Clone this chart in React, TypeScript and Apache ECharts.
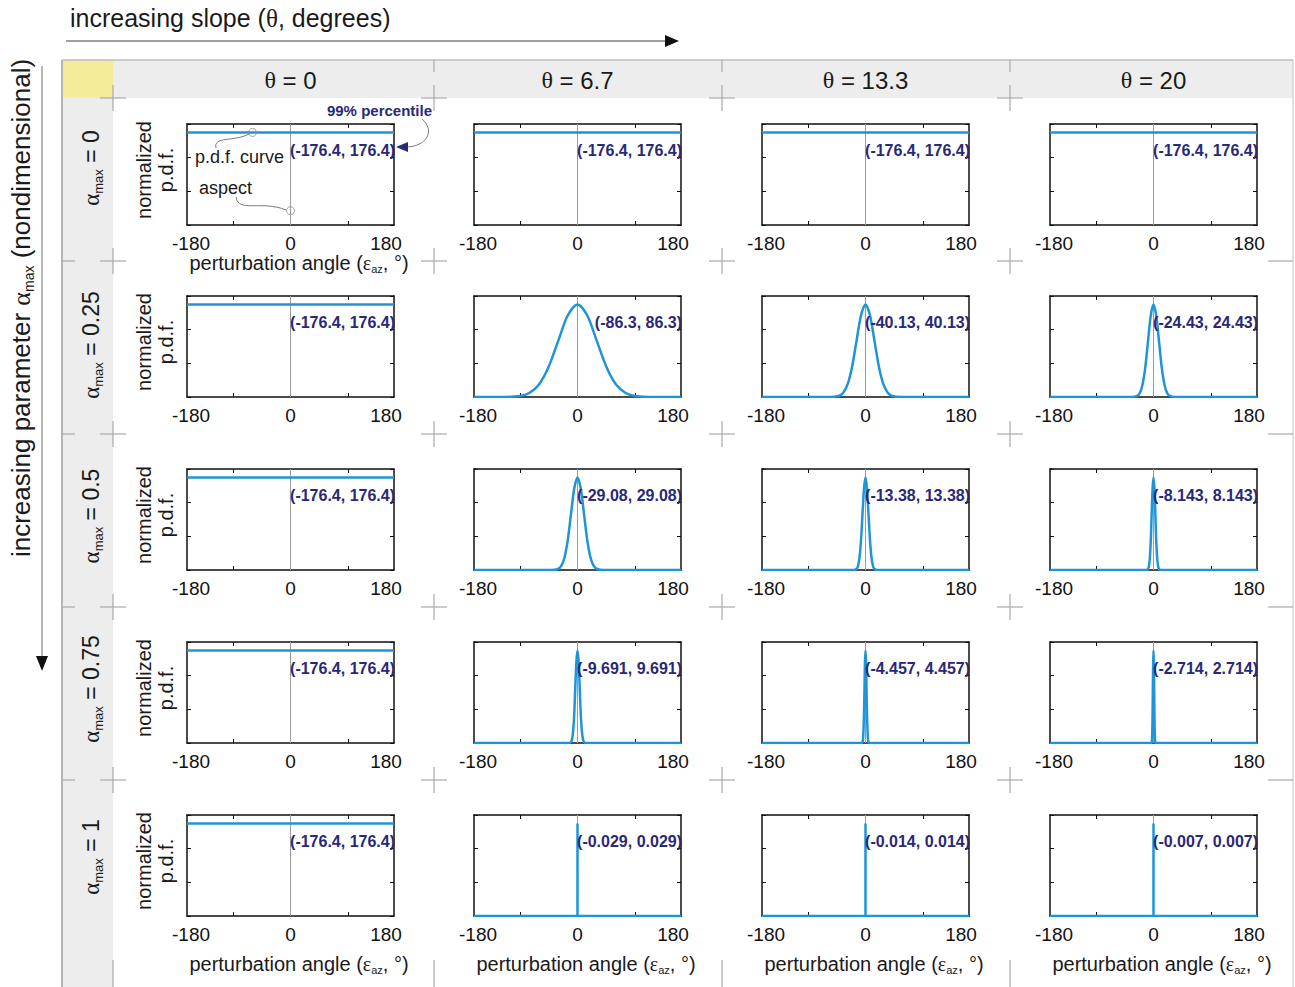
import React, { useEffect, useRef } from "react";
import * as echarts from "echarts";

// ---------- data ----------
const THETA_LABELS = ["0", "6.7", "13.3", "20"];
const ALPHA_LABELS = ["0", "0.25", "0.5", "0.75", "1"];
const X_TICK_VALUES = [-100, 0, 100];
const X_LABEL_VALUES = [-180, 0, 180];
const Y_MAX = 1.2;
const Y_INTERVAL = 0.4;
const ZERO_LINE = [[0, 0], [0, 1.2]];

const FLAT = [[-180, 1.1], [180, 1.1]];

const A025_T67 = [[-180, 0], [-134, 0], [-100.5, 0.012], [-83.8, 0.048], [-67, 0.149], [-50.3, 0.357], [-33.5, 0.667], [-16.8, 0.971], [0, 1.1], [16.8, 0.971], [33.5, 0.667], [50.3, 0.357], [67, 0.149], [83.8, 0.048], [100.5, 0.012], [134, 0], [180, 0]];
const A025_T133 = [[-180, 0], [-62.3, 0], [-46.7, 0.012], [-39, 0.048], [-31.2, 0.149], [-23.4, 0.357], [-15.6, 0.667], [-7.8, 0.971], [0, 1.1], [7.8, 0.971], [15.6, 0.667], [23.4, 0.357], [31.2, 0.149], [39, 0.048], [46.7, 0.012], [62.3, 0], [180, 0]];
const A025_T20 = [[-180, 0], [-37.9, 0], [-28.5, 0.012], [-23.7, 0.048], [-19, 0.149], [-14.2, 0.357], [-9.5, 0.667], [-4.7, 0.971], [0, 1.1], [4.7, 0.971], [9.5, 0.667], [14.2, 0.357], [19, 0.149], [23.7, 0.048], [28.5, 0.012], [37.9, 0], [180, 0]];
const A05_T67 = [[-180, 0], [-45.2, 0], [-33.9, 0.012], [-28.2, 0.048], [-22.6, 0.149], [-16.9, 0.357], [-11.3, 0.667], [-5.6, 0.971], [0, 1.1], [5.6, 0.971], [11.3, 0.667], [16.9, 0.357], [22.6, 0.149], [28.2, 0.048], [33.9, 0.012], [45.2, 0], [180, 0]];
const A05_T133 = [[-180, 0], [-20.8, 0], [-15.6, 0.012], [-13, 0.048], [-10.4, 0.149], [-7.8, 0.357], [-5.2, 0.667], [-2.6, 0.971], [0, 1.1], [2.6, 0.971], [5.2, 0.667], [7.8, 0.357], [10.4, 0.149], [13, 0.048], [15.6, 0.012], [20.8, 0], [180, 0]];
const A05_T20 = [[-180, 0], [-12.6, 0], [-9.5, 0.012], [-7.9, 0.048], [-6.3, 0.149], [-4.7, 0.357], [-3.2, 0.667], [-1.6, 0.971], [0, 1.1], [1.6, 0.971], [3.2, 0.667], [4.7, 0.357], [6.3, 0.149], [7.9, 0.048], [9.5, 0.012], [12.6, 0], [180, 0]];
const A075_T67 = [[-180, 0], [-15, 0], [-11.3, 0.012], [-9.4, 0.048], [-7.5, 0.149], [-5.6, 0.357], [-3.8, 0.667], [-1.9, 0.971], [0, 1.1], [1.9, 0.971], [3.8, 0.667], [5.6, 0.357], [7.5, 0.149], [9.4, 0.048], [11.3, 0.012], [15, 0], [180, 0]];
const A075_T133 = [[-180, 0], [-6.9, 0], [-5.2, 0.012], [-4.3, 0.048], [-3.5, 0.149], [-2.6, 0.357], [-1.7, 0.667], [-0.9, 0.971], [0, 1.1], [0.9, 0.971], [1.7, 0.667], [2.6, 0.357], [3.5, 0.149], [4.3, 0.048], [5.2, 0.012], [6.9, 0], [180, 0]];
const A075_T20 = [[-180, 0], [-4.2, 0], [-3.2, 0.012], [-2.6, 0.048], [-2.1, 0.149], [-1.6, 0.357], [-1.1, 0.667], [-0.5, 0.971], [0, 1.1], [0.5, 0.971], [1.1, 0.667], [1.6, 0.357], [2.1, 0.149], [2.6, 0.048], [3.2, 0.012], [4.2, 0], [180, 0]];
const A1_T67 = [[-180, 0], [-0.029, 0], [0, 1.1], [0.029, 0], [180, 0]];
const A1_T133 = [[-180, 0], [-0.014, 0], [0, 1.1], [0.014, 0], [180, 0]];
const A1_T20 = [[-180, 0], [-0.007, 0], [0, 1.1], [0.007, 0], [180, 0]];

const CURVES = [
  [FLAT, FLAT, FLAT, FLAT],
  [FLAT, A025_T67, A025_T133, A025_T20],
  [FLAT, A05_T67, A05_T133, A05_T20],
  [FLAT, A075_T67, A075_T133, A075_T20],
  [FLAT, A1_T67, A1_T133, A1_T20],
];

const BOUNDS = [
  ["(-176.4, 176.4)", "(-176.4, 176.4)", "(-176.4, 176.4)", "(-176.4, 176.4)"],
  ["(-176.4, 176.4)", "(-86.3, 86.3)", "(-40.13, 40.13)", "(-24.43, 24.43)"],
  ["(-176.4, 176.4)", "(-29.08, 29.08)", "(-13.38, 13.38)", "(-8.143, 8.143)"],
  ["(-176.4, 176.4)", "(-9.691, 9.691)", "(-4.457, 4.457)", "(-2.714, 2.714)"],
  ["(-176.4, 176.4)", "(-0.029, 0.029)", "(-0.014, 0.014)", "(-0.007, 0.007)"],
];

// annotation markers in the first panel (p.d.f. curve, aspect)
const ANNOT_CIRCLES = [[-66, 1.1], [0, 0.17]];

// ---------- layout / style ----------
const COL_LEFT = [187, 474, 762, 1050];
const ROW_TOP = [124, 296, 469, 642, 815];
const BW = 207;
const BH = 101;
const ROW_LABEL_Y = [168, 345, 516, 689, 857];
const COL_BOUND_X = [113, 434, 722, 1010];
const ROW_BOUND_Y = [98, 261, 434, 607, 780];

const FONT = "'Liberation Sans', Arial, Helvetica, sans-serif";
const SERIF = "'Liberation Serif', 'DejaVu Serif', serif";
const NAVY = "#2a2878";
const BLUE = "#1f95d6";
const INK = "#1a1a1a";
const GRID_GRAY = "#a9a9a9";

function txt(x: number, y: number, text: string, o: any = {}) {
  return {
    type: "text",
    x,
    y,
    z: 50,
    silent: true,
    rotation: o.rotation || 0,
    style: {
      text,
      fill: o.fill || INK,
      fontSize: o.fontSize || 20,
      fontFamily: o.fontFamily || FONT,
      fontWeight: o.fontWeight || "normal",
      align: o.align || "center",
      verticalAlign: o.verticalAlign || "middle",
      rich: o.rich,
    },
  };
}

function ln(x1: number, y1: number, x2: number, y2: number, stroke = GRID_GRAY, w = 1.2) {
  return { type: "line", z: 5, silent: true, shape: { x1, y1, x2, y2 }, style: { stroke, lineWidth: w } };
}

function richMain(size: number) {
  return {
    a: { fontSize: size, fontFamily: FONT, color: INK },
    g: { fontSize: size, fontFamily: SERIF, color: INK },
    s: { fontSize: Math.round(size * 0.55), fontFamily: FONT, color: INK, padding: [Math.round(size * 0.6), 0, 0, 0] },
  };
}

function buildOption() {
  const grid: any[] = [];
  const xAxis: any[] = [];
  const yAxis: any[] = [];
  const series: any[] = [];
  const lineStyle = { color: "#111", width: 1.5 };
  const tick = { show: true, inside: true, length: 4, lineStyle: { color: "#111", width: 1 } };

  let gi = 0;
  for (let r = 0; r < 5; r++) {
    for (let c = 0; c < 4; c++) {
      grid.push({ left: COL_LEFT[c], top: ROW_TOP[r], width: BW, height: BH });
      xAxis.push({
        gridIndex: gi, type: "value", position: "bottom", min: -180, max: 180,
        axisLine: { show: true, onZero: false, lineStyle },
        axisTick: { ...tick, customValues: X_TICK_VALUES },
        splitLine: { show: false },
        axisLabel: {
          show: true, customValues: X_LABEL_VALUES, margin: 9,
          fontSize: 19, fontFamily: FONT, color: "#111",
          formatter: (v: number) => (v === 180 ? "{r|180}" : v === -180 ? "{l|-180}" : "{m|" + v + "}"),
          rich: {
            l: { fontSize: 19, fontFamily: FONT, color: "#111", padding: [0, 0, 0, 8] },
            r: { fontSize: 19, fontFamily: FONT, color: "#111", padding: [0, 16, 0, 0] },
            m: { fontSize: 19, fontFamily: FONT, color: "#111" },
          },
        },
      });
      xAxis.push({
        gridIndex: gi, type: "value", position: "top", min: -180, max: 180,
        axisLine: { show: true, onZero: false, lineStyle },
        axisTick: { ...tick, customValues: X_TICK_VALUES },
        axisLabel: { show: false }, splitLine: { show: false },
      });
      yAxis.push({
        gridIndex: gi, type: "value", position: "left", min: 0, max: Y_MAX, interval: Y_INTERVAL,
        axisLine: { show: true, onZero: false, lineStyle },
        axisTick: tick, axisLabel: { show: false }, splitLine: { show: false },
      });
      yAxis.push({
        gridIndex: gi, type: "value", position: "right", min: 0, max: Y_MAX, interval: Y_INTERVAL,
        axisLine: { show: true, onZero: false, lineStyle },
        axisTick: tick, axisLabel: { show: false }, splitLine: { show: false },
      });
      series.push({
        type: "line", xAxisIndex: 2 * gi, yAxisIndex: 2 * gi, data: ZERO_LINE,
        symbol: "none", silent: true, z: 2,
        lineStyle: { color: "#9c9c9c", width: 1 },
      });
      const curve = CURVES[r][c];
      series.push({
        type: "line", xAxisIndex: 2 * gi, yAxisIndex: 2 * gi, data: curve,
        symbol: "none", silent: true, z: 3, smooth: curve.length > 5 ? 0.3 : false,
        lineStyle: { color: BLUE, width: 2.5 },
      });
      if (gi === 0) {
        series.push({
          type: "scatter", xAxisIndex: 0, yAxisIndex: 0, data: ANNOT_CIRCLES, z: 4,
          symbol: "circle", symbolSize: 8, silent: true,
          itemStyle: { color: "rgba(255,255,255,0)", borderColor: "#8a8a8a", borderWidth: 1 },
        });
      }
      gi++;
    }
  }

  const g: any[] = [];
  // background bands
  g.push({ type: "rect", z: 0, silent: true, shape: { x: 62, y: 60, width: 1231, height: 38 }, style: { fill: "#ededed" } });
  g.push({ type: "rect", z: 0, silent: true, shape: { x: 62, y: 98, width: 51, height: 889 }, style: { fill: "#ededed" } });
  g.push({ type: "rect", z: 1, silent: true, shape: { x: 62, y: 60, width: 51, height: 38 }, style: { fill: "#f5ec9b" } });
  g.push(ln(62, 60, 1293, 60, "#bcbcbc", 1.5));
  g.push(ln(62, 60, 62, 987, "#b4b4b4", 2));
  g.push(ln(1293, 60, 1293, 987, "#c4c4c4", 1));
  // crosses and edge ticks
  for (const y of ROW_BOUND_Y) {
    for (const x of COL_BOUND_X) {
      g.push(ln(x - 13, y, x + 13, y));
      g.push(ln(x, y - 13, x, y + 13));
    }
    if (y > 98) {
      g.push(ln(62, y, 75, y));
      g.push(ln(1268, y, 1293, y));
    }
  }
  for (const x of COL_BOUND_X.slice(1)) g.push(ln(x, 60, x, 72));
  for (const x of COL_BOUND_X) g.push(ln(x, 960, x, 987));

  // arrows
  g.push(ln(66, 41, 667, 41, "#808080", 1.3));
  g.push({ type: "polygon", z: 5, silent: true, shape: { points: [[665, 35], [679, 41], [665, 47]] }, style: { fill: "#111" } });
  g.push(ln(42, 66, 42, 658, "#a0a0a0", 1.5));
  g.push({ type: "polygon", z: 5, silent: true, shape: { points: [[36, 656], [48, 656], [42, 671]] }, style: { fill: "#111" } });

  // titles
  g.push(txt(70, 18, "{a|increasing slope (}{g|θ}{a|, degrees)}", { align: "left", rich: richMain(25) }));
  g.push(txt(21, 308, "{a|increasing parameter }{g|α}{s|max}{a| (nondimensional)}", { rotation: Math.PI / 2, rich: richMain(26) }));

  for (let c = 0; c < 4; c++) {
    g.push(txt(COL_LEFT[c] + 103.5, 80, "{g|θ}{a| = " + THETA_LABELS[c] + "}", { rich: richMain(24) }));
  }
  for (let r = 0; r < 5; r++) {
    g.push(txt(91, ROW_LABEL_Y[r], "{g|α}{s|max}{a| = " + ALPHA_LABELS[r] + "}", { rotation: Math.PI / 2, rich: richMain(23) }));
    g.push(txt(144, ROW_TOP[r] + 46, "normalized", { rotation: Math.PI / 2, fontSize: 20 }));
    g.push(txt(166, ROW_TOP[r] + 46, "p.d.f.", { rotation: Math.PI / 2, fontSize: 20 }));
    for (let c = 0; c < 4; c++) {
      g.push(txt(COL_LEFT[c] + BW + 1, ROW_TOP[r] + 26, BOUNDS[r][c], {
        align: "right", fontSize: 16, fontWeight: "bold", fill: NAVY,
      }));
    }
  }
  const xTitle = "{a|perturbation angle (}{g|ε}{s|az}{a|, °)}";
  g.push(txt(COL_LEFT[0] + 112, 263, xTitle, { rich: richMain(20) }));
  for (let c = 0; c < 4; c++) g.push(txt(COL_LEFT[c] + 112, 964, xTitle, { rich: richMain(20) }));

  // annotations in first panel
  g.push(txt(195, 157, "p.d.f. curve", { align: "left", fontSize: 18 }));
  g.push(txt(199, 188, "aspect", { align: "left", fontSize: 18 }));
  g.push({ type: "bezierCurve", z: 5, silent: true, shape: { x1: 216, y1: 148, cpx1: 213, cpy1: 136, cpx2: 234, cpy2: 142, x2: 249, y2: 134 }, style: { stroke: "#7a7a7a", lineWidth: 1, fill: "none" } });
  g.push({ type: "bezierCurve", z: 5, silent: true, shape: { x1: 236, y1: 197, cpx1: 238, cpy1: 213, cpx2: 262, cpy2: 200, x2: 286, y2: 210 }, style: { stroke: "#7a7a7a", lineWidth: 1, fill: "none" } });
  g.push(txt(432, 110, "99% percentile", { align: "right", fontSize: 15, fontWeight: "bold", fill: NAVY }));
  g.push({ type: "bezierCurve", z: 5, silent: true, shape: { x1: 422, y1: 119, cpx1: 436, cpy1: 131, cpx2: 426, cpy2: 147, x2: 406, y2: 147 }, style: { stroke: "#7a7a7a", lineWidth: 1, fill: "none" } });
  g.push({ type: "polygon", z: 6, silent: true, shape: { points: [[396, 147], [408, 142], [408, 152]] }, style: { fill: NAVY } });

  return {
    animation: false,
    backgroundColor: "#ffffff",
    grid, xAxis, yAxis, series,
    graphic: g,
  };
}

export default function App() {
  const ref = useRef<HTMLDivElement>(null);
  useEffect(() => {
    if (!ref.current) return;
    const chart = echarts.init(ref.current, undefined, { renderer: "svg" });
    chart.setOption(buildOption() as any);
    return () => chart.dispose();
  }, []);
  return (
    <div
      ref={ref}
      style={{ position: "absolute", left: 0, top: 0, width: 1295, height: 987, background: "#fff" }}
    />
  );
}
